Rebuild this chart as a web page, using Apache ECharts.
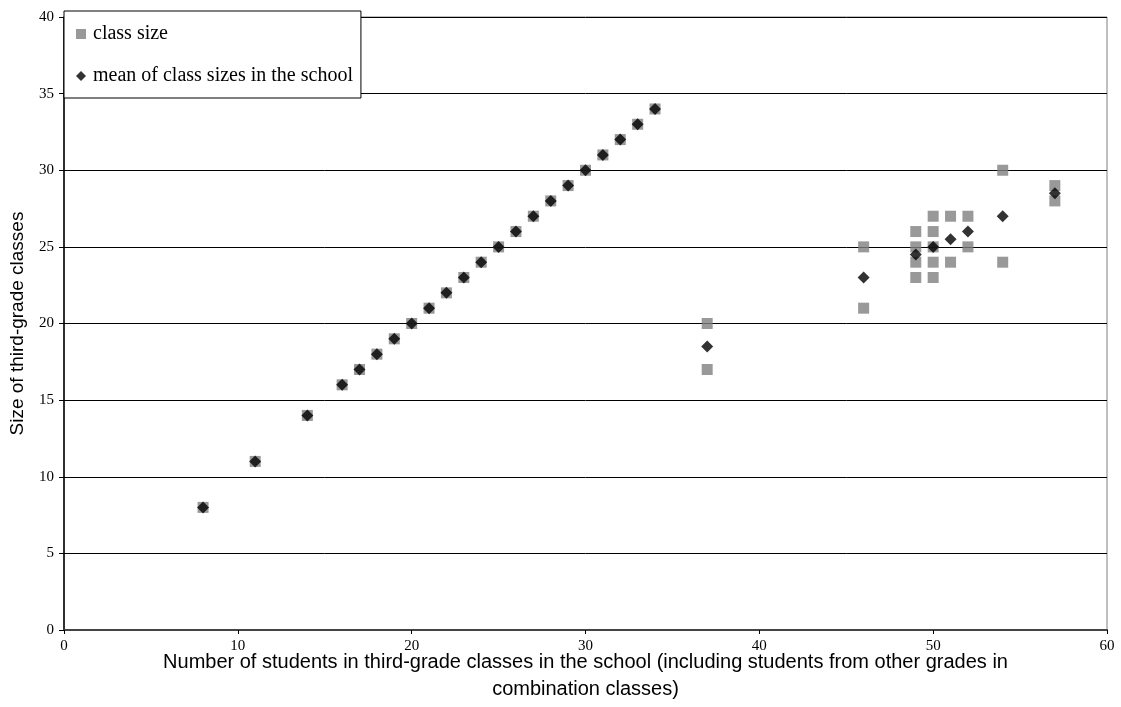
<!DOCTYPE html>
<html>
<head>
<meta charset="utf-8">
<script src="https://cdn.jsdelivr.net/npm/echarts@6/dist/echarts.min.js"></script>
<style>html,body{margin:0;padding:0;background:#fff;}#c{width:1121px;height:707px;}</style>
</head>
<body>
<div id="c"></div>
<script>
// Class-size series: [students in third-grade classes, class size]
const classSizeX = [8,11,14,16,17,18,19,20,21,22,23,24,25,26,27,28,29,30,31,32,33,34,
  37,37, 46,46, 49,49,49,49, 50,50,50,50,50, 51,51, 52,52, 54,54, 57,57];
const classSizeY = [8,11,14,16,17,18,19,20,21,22,23,24,25,26,27,28,29,30,31,32,33,34,
  20,17, 25,21, 26,25,24,23, 27,26,25,24,23, 27,24, 27,25, 30,24, 29,28];
// Mean of class sizes in the school
const meanX = [8,11,14,16,17,18,19,20,21,22,23,24,25,26,27,28,29,30,31,32,33,34,
  37,46,49,50,51,52,54,57];
const meanY = [8,11,14,16,17,18,19,20,21,22,23,24,25,26,27,28,29,30,31,32,33,34,
  18.5,23,24.5,25,25.5,26,27,28.5];
const seriesNames = ['class size', 'mean of class sizes in the school'];
const xTitle = 'Number of students in third-grade classes in the school (including students from other grades in\ncombination classes)';
const yTitle = 'Size of third-grade classes';

const chart = echarts.init(document.getElementById('c'), null, {renderer: 'canvas'});
const serif = '"Liberation Serif", "Times New Roman", serif';
const sans = '"Liberation Sans", Arial, sans-serif';
chart.setOption({
  animation: false,
  backgroundColor: '#fff',
  grid: {left: 64, right: 14, top: 17, bottom: 77, containLabel: false, outerBoundsMode: 'none',
    show: true, borderColor: '#808080', borderWidth: 1, backgroundColor: 'transparent'},
  legend: {
    orient: 'vertical', left: 64, top: 11,
    padding: [13, 8, 12, 12], itemGap: 22, itemWidth: 10, itemHeight: 10,
    backgroundColor: '#fff', borderColor: '#000', borderWidth: 1, borderRadius: 0,
    textStyle: {fontFamily: serif, fontSize: 20, color: '#000', lineHeight: 20, padding: [0,0,0,2]},
    data: [{name: seriesNames[0], icon: 'rect'}, {name: seriesNames[1], icon: 'diamond'}]
  },
  xAxis: {
    type: 'value', min: 0, max: 60, interval: 10,
    name: xTitle, nameLocation: 'middle', nameGap: 19, nameMoveOverlap: false,
    nameTextStyle: {fontFamily: sans, fontSize: 20, color: '#000', lineHeight: 27},
    axisLine: {show: true, lineStyle: {color: '#444', width: 2}},
    axisTick: {show: true, inside: false, length: 4, lineStyle: {color: '#000'}},
    axisLabel: {fontFamily: serif, fontSize: 15, color: '#000', margin: 9},
    splitLine: {show: false}
  },
  yAxis: {
    type: 'value', min: 0, max: 40, interval: 5,
    name: yTitle, nameLocation: 'middle', nameGap: 37, nameRotate: 90, nameMoveOverlap: false,
    nameTextStyle: {fontFamily: sans, fontSize: 19, color: '#000'},
    axisLine: {show: true, lineStyle: {color: '#000', width: 1.5}},
    axisTick: {show: true, inside: false, length: 5, lineStyle: {color: '#000'}},
    axisLabel: {fontFamily: serif, fontSize: 15, color: '#000', margin: 10},
    splitLine: {show: true, lineStyle: {color: '#000', width: 1}}
  },
  series: [
    {
      name: seriesNames[0], type: 'scatter', symbol: 'rect', symbolSize: 11,
      itemStyle: {color: '#808080'},
      data: classSizeX.map((x, i) => [x, classSizeY[i]]), z: 2
    },
    {
      name: seriesNames[1], type: 'scatter', symbol: 'diamond', symbolSize: 12,
      itemStyle: {color: '#000'},
      data: meanX.map((x, i) => [x, meanY[i]]), z: 3
    }
  ]
});
</script>
</body>
</html>
